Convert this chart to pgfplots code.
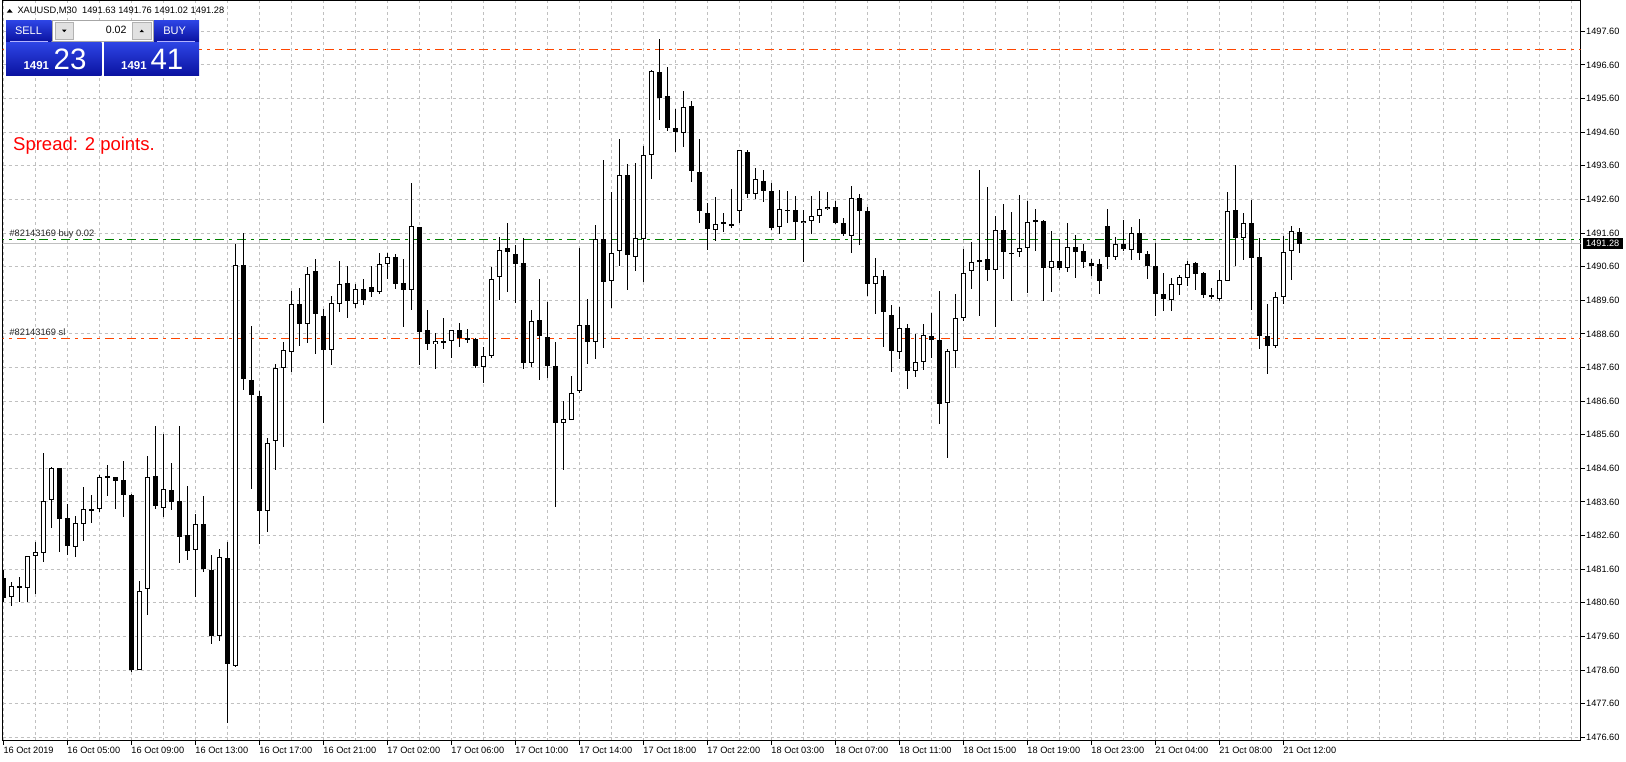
\documentclass[border=0pt]{standalone}
\usepackage{fontspec}
\setmainfont{Liberation Sans}
\usepackage{pgfplots}
\usepackage{pgfplotstable}
\pgfplotsset{compat=1.18}
\definecolor{gridc}{RGB}{192,192,192}
\definecolor{tpred}{RGB}{255,69,0}
\definecolor{ordgreen}{RGB}{0,128,0}
\definecolor{panelTop}{RGB}{45,68,228}
\definecolor{panelBot}{RGB}{10,18,160}
\definecolor{btngray}{RGB}{225,225,225}

\pgfplotstableread{
i o h l c
0 1481.33 1481.60 1480.64 1480.74
1 1480.77 1481.22 1480.52 1481.12
2 1481.12 1481.37 1480.61 1481.05
3 1481.06 1481.99 1480.61 1481.99
4 1481.99 1482.43 1480.88 1482.11
5 1482.08 1485.06 1481.80 1483.62
6 1483.65 1484.64 1482.84 1484.62
7 1484.62 1484.62 1482.13 1483.11
8 1483.13 1483.54 1482.03 1482.30
9 1482.28 1483.19 1481.98 1482.97
10 1482.96 1484.05 1482.45 1483.39
11 1483.39 1483.81 1482.98 1483.36
12 1483.39 1484.41 1483.31 1484.34
13 1484.37 1484.71 1483.78 1484.33
14 1484.34 1484.34 1483.41 1484.24
15 1484.26 1484.82 1483.14 1483.82
16 1483.81 1483.83 1478.55 1478.60
17 1478.62 1481.25 1478.60 1480.97
18 1481.02 1484.97 1480.24 1484.37
19 1484.37 1485.87 1483.40 1483.47
20 1483.44 1485.63 1483.17 1483.99
21 1483.95 1484.76 1483.37 1483.61
22 1483.63 1485.87 1481.80 1482.57
23 1482.62 1484.08 1481.88 1482.15
24 1482.18 1483.25 1480.78 1482.95
25 1482.95 1483.77 1481.52 1481.63
26 1481.58 1482.04 1479.38 1479.62
27 1479.62 1482.21 1479.48 1481.96
28 1481.93 1482.43 1477.04 1478.77
29 1478.71 1491.29 1478.71 1490.65
30 1490.65 1491.60 1486.94 1487.27
31 1487.23 1488.84 1483.99 1486.79
32 1486.76 1486.90 1482.34 1483.34
33 1483.34 1485.51 1482.70 1485.37
34 1485.42 1487.72 1484.56 1487.58
35 1487.58 1488.37 1485.23 1488.12
36 1488.07 1489.88 1487.47 1489.49
37 1489.49 1489.99 1488.24 1488.90
38 1488.90 1490.59 1488.33 1490.39
39 1490.46 1490.83 1488.02 1489.19
40 1489.14 1489.36 1485.95 1488.12
41 1488.12 1489.74 1487.67 1489.52
42 1489.50 1490.79 1489.27 1490.11
43 1490.11 1490.62 1489.07 1489.58
44 1489.50 1490.08 1489.36 1489.94
45 1489.94 1490.24 1489.48 1489.61
46 1489.99 1490.62 1489.70 1489.84
47 1489.85 1491.02 1489.80 1490.69
48 1490.69 1491.02 1490.23 1490.90
49 1490.90 1490.97 1489.93 1490.08
50 1490.12 1490.85 1488.81 1489.91
51 1489.91 1493.11 1489.31 1491.82
52 1491.79 1491.79 1487.70 1488.66
53 1488.70 1489.32 1488.11 1488.30
54 1488.31 1488.64 1487.56 1488.40
55 1488.41 1489.09 1488.17 1488.36
56 1488.40 1488.73 1487.89 1488.73
57 1488.73 1488.93 1488.21 1488.48
58 1488.50 1488.74 1488.32 1488.42
59 1488.44 1488.50 1487.60 1487.64
60 1487.62 1488.23 1487.14 1487.95
61 1487.94 1490.59 1487.88 1490.25
62 1490.29 1491.49 1489.60 1491.11
63 1491.14 1491.89 1489.84 1491.04
64 1491.00 1491.26 1489.54 1490.68
65 1490.70 1491.46 1487.56 1487.73
66 1487.73 1489.33 1487.62 1489.00
67 1489.00 1490.25 1487.25 1488.54
68 1488.53 1489.57 1487.31 1487.65
69 1487.66 1488.36 1483.45 1485.95
70 1485.95 1486.60 1484.57 1486.06
71 1486.06 1487.34 1486.06 1486.86
72 1486.89 1491.17 1486.85 1488.85
73 1488.88 1489.65 1487.71 1488.37
74 1488.37 1491.86 1487.87 1491.43
75 1491.43 1493.76 1488.18 1490.14
76 1490.17 1492.81 1489.37 1491.02
77 1491.08 1494.40 1490.62 1493.33
78 1493.33 1493.66 1489.90 1490.95
79 1490.90 1493.67 1490.46 1491.46
80 1491.43 1494.20 1490.16 1493.93
81 1493.93 1496.46 1493.20 1496.42
82 1496.39 1497.38 1494.96 1495.64
83 1495.68 1496.56 1494.65 1494.72
84 1494.73 1495.31 1494.03 1494.60
85 1494.58 1495.81 1494.15 1495.35
86 1495.38 1495.53 1493.14 1493.44
87 1493.42 1494.40 1491.90 1492.25
88 1492.20 1492.51 1491.09 1491.73
89 1491.70 1492.69 1491.36 1491.88
90 1491.94 1492.21 1491.62 1491.87
91 1491.88 1492.93 1491.77 1491.84
92 1492.26 1494.08 1491.89 1494.08
93 1494.02 1494.08 1492.64 1492.76
94 1492.76 1493.54 1492.61 1493.21
95 1493.15 1493.48 1492.53 1492.85
96 1492.86 1493.10 1491.69 1491.74
97 1491.79 1492.89 1491.57 1492.32
98 1492.29 1492.87 1491.90 1492.29
99 1492.29 1492.72 1491.40 1491.93
100 1491.91 1492.29 1490.74 1491.97
101 1491.97 1492.71 1491.60 1492.11
102 1492.11 1492.87 1491.90 1492.32
103 1492.32 1492.84 1492.28 1492.38
104 1492.38 1492.57 1491.88 1491.90
105 1491.91 1492.06 1491.51 1491.57
106 1491.51 1493.01 1491.01 1492.65
107 1492.65 1492.77 1491.26 1492.26
108 1492.26 1492.38 1489.73 1490.10
109 1490.10 1490.85 1489.20 1490.33
110 1490.33 1490.51 1488.23 1489.25
111 1489.17 1489.48 1487.47 1488.10
112 1488.08 1489.39 1487.86 1488.79
113 1488.79 1488.89 1486.97 1487.50
114 1487.50 1488.60 1487.32 1487.75
115 1487.77 1488.89 1487.53 1488.58
116 1488.55 1489.23 1487.89 1488.42
117 1488.43 1489.87 1485.93 1486.52
118 1486.56 1488.16 1484.92 1488.10
119 1488.10 1489.78 1487.59 1489.09
120 1489.09 1491.12 1488.99 1490.42
121 1490.45 1491.35 1489.94 1490.72
122 1490.82 1493.49 1489.13 1490.77
123 1490.84 1492.96 1490.17 1490.50
124 1490.50 1492.12 1488.81 1491.70
125 1491.70 1492.48 1490.23 1491.04
126 1491.02 1492.24 1489.60 1490.98
127 1491.05 1492.75 1490.91 1491.16
128 1491.16 1492.57 1489.82 1491.94
129 1492.00 1492.32 1491.07 1491.96
130 1491.97 1492.01 1489.58 1490.56
131 1490.56 1491.68 1489.85 1490.78
132 1490.78 1491.44 1490.51 1490.56
133 1490.56 1491.89 1490.44 1491.19
134 1491.19 1491.56 1490.26 1491.04
135 1491.09 1491.28 1490.57 1490.74
136 1490.72 1490.82 1490.32 1490.62
137 1490.69 1490.84 1489.79 1490.17
138 1491.83 1492.32 1490.54 1490.89
139 1490.89 1491.49 1490.80 1491.28
140 1491.28 1492.01 1491.07 1491.12
141 1491.10 1491.80 1490.80 1491.61
142 1491.61 1492.03 1490.80 1491.01
143 1490.99 1491.09 1490.26 1490.62
144 1490.63 1491.31 1489.15 1489.79
145 1489.80 1490.43 1489.28 1489.64
146 1489.61 1490.26 1489.28 1490.07
147 1490.07 1490.35 1489.77 1490.30
148 1490.27 1490.78 1490.02 1490.69
149 1490.72 1490.75 1489.91 1490.41
150 1490.42 1490.45 1489.67 1489.76
151 1489.77 1489.99 1489.64 1489.70
152 1489.64 1490.50 1489.58 1490.21
153 1490.18 1492.84 1490.18 1492.26
154 1492.29 1493.63 1490.62 1491.45
155 1491.45 1492.21 1490.80 1491.91
156 1491.91 1492.59 1489.30 1490.86
157 1490.90 1491.46 1488.18 1488.54
158 1488.56 1489.48 1487.42 1488.24
159 1488.24 1489.86 1488.18 1489.72
160 1489.72 1491.52 1489.47 1491.05
161 1491.08 1491.82 1490.23 1491.67
162 1491.63 1491.76 1491.02 1491.28
}\candles

\begin{document}
\begin{tikzpicture}[x=1pt,y=1pt]
\begin{axis}[
  scale only axis, width=1578pt, height=740.2pt,
  xmin=-0.075, xmax=197.175, ymin=1476.499, ymax=1498.516,
  axis line style={black, line width=1pt},
  tick style={black, line width=1pt},
  major tick length=4pt, minor tick length=0pt,
  tick align=outside,
  xtick pos=bottom, ytick pos=right, yticklabel pos=right,
  xtick={0,8,...,160},
  xticklabels={16 Oct 2019,16 Oct 05:00,16 Oct 09:00,16 Oct 13:00,16 Oct 17:00,16 Oct 21:00,17 Oct 02:00,17 Oct 06:00,17 Oct 10:00,17 Oct 14:00,17 Oct 18:00,17 Oct 22:00,18 Oct 03:00,18 Oct 07:00,18 Oct 11:00,18 Oct 15:00,18 Oct 19:00,18 Oct 23:00,21 Oct 04:00,21 Oct 08:00,21 Oct 12:00},
  minor xtick={0,4,...,196},
  xmajorgrids=false, xminorgrids=true, ymajorgrids=true,
  grid style={gridc, line width=1pt, dash pattern=on 3pt off 3pt},
  minor grid style={gridc, line width=1pt, dash pattern=on 3pt off 3pt},
  ytick={1476.6,1477.6,1478.6,1479.6,1480.6,1481.6,1482.6,1483.6,1484.6,1485.6,1486.6,1487.6,1488.6,1489.6,1490.6,1491.6,1492.6,1493.6,1494.6,1495.6,1496.6,1497.6},
  /pgf/number format/assume math mode=true,
  yticklabel style={/pgf/number format/fixed, /pgf/number format/fixed zerofill, /pgf/number format/precision=2, /pgf/number format/1000 sep={}, anchor=west, inner sep=0pt, xshift=1.3pt, font=\fontsize{9.2}{11}\selectfont},
  xticklabel style={anchor=north west, inner sep=0pt, yshift=-2pt, font=\fontsize{9.2}{11}\selectfont},
]
\coordinate (O) at (rel axis cs:0,0);
% order lines
\addplot[forget plot, tpred, line width=1pt, dash pattern=on 9pt off 5pt on 3pt off 5pt] coordinates {(-1,1497.06) (200,1497.06)};
\addplot[forget plot, tpred, line width=1pt, dash pattern=on 9pt off 5pt on 3pt off 5pt] coordinates {(-1,1488.45) (200,1488.45)};
\addplot[forget plot, gridc, line width=1pt] coordinates {(-1,1491.28) (200,1491.28)};
\addplot[forget plot, ordgreen, line width=1pt, dash pattern=on 9pt off 5pt on 3pt off 5pt] coordinates {(-1,1491.40) (200,1491.40)};
% wicks
\addplot[forget plot, draw=none, mark=none,
  error bars/.cd, y dir=both, y explicit, error mark=none,
  error bar style={draw=black, solid, line width=1pt}]
  table[x=i, y expr={(\thisrow{h}+\thisrow{l})/2}, y error expr={(\thisrow{h}-\thisrow{l})/2}] {\candles};
% bodies (black outline / black fill)
\addplot[forget plot, draw=none, mark=none,
  error bars/.cd, y dir=both, y explicit, error mark=none,
  error bar style={draw=black, solid, line width=5pt}]
  table[x=i, y expr={(\thisrow{o}+\thisrow{c})/2}, y error expr={max(abs(\thisrow{c}-\thisrow{o})/2,0.015)}] {\candles};
% white interior for bullish candles
\addplot[forget plot, draw=none, mark=none,
  error bars/.cd, y dir=both, y explicit, error mark=none,
  error bar style={draw=white, solid, line width=3pt}]
  table[x=i, y expr={(\thisrow{o}+\thisrow{c})/2}, y error expr={(\thisrow{c}>\thisrow{o}) ? max(abs(\thisrow{c}-\thisrow{o})/2-0.0297,0) : 0}] {\candles};
\end{axis}

\pgfresetboundingbox
\begin{scope}[shift={(O)}, xshift=-2.7pt, yshift=-21.3pt]
\useasboundingbox (0,0) rectangle (1626,762);
% header
\fill[black] (6.7,749.3) -- (12.7,749.3) -- (9.7,753) -- cycle;
\node[anchor=base west, inner sep=0pt, font=\fontsize{9.3}{11}\selectfont] at (17.3,748.7) {XAUUSD,M30\ \ 1491.63 1491.76 1491.02 1491.28};

% one-click trading panel
\shade[top color=panelTop, bottom color=panelBot] (6,720.3) rectangle (51.7,741.3);
\shade[top color=panelTop, bottom color=panelBot] (153.3,720.3) rectangle (199,741.3);
\draw[gray!70, fill=white] (52,720.3) rectangle (153,741.3);
\draw[gray!60, fill=btngray] (55,722.5) rectangle (73.5,739.3);
\draw[gray!60, fill=btngray] (132,722.5) rectangle (151.5,739.3);
\fill[black] (62,732.3) -- (66.5,732.3) -- (64.25,729.8) -- cycle;
\fill[black] (139.5,729.8) -- (144,729.8) -- (141.75,732.3) -- cycle;
\node[anchor=base east, inner sep=0pt, font=\fontsize{10.6}{12}\selectfont] at (126.7,728) {0.02};
\draw[blue!30!white, line width=0.8pt] (10,721) -- (48.3,721);
\draw[blue!30!white, line width=0.8pt] (157,721) -- (195,721);
\node[white, inner sep=0pt, font=\fontsize{11}{12}\selectfont] at (28.5,731.3) {SELL};
\node[white, inner sep=0pt, font=\fontsize{11}{12}\selectfont] at (174.7,731.3) {BUY};
\shade[top color=panelTop, bottom color=panelBot] (6,686.3) rectangle (101.7,719.3);
\shade[top color=panelTop, bottom color=panelBot] (104,686.3) rectangle (199,719.3);
\node[white, anchor=base west, inner sep=0pt, font=\bfseries\fontsize{11.5}{12}\selectfont] at (23.3,692.3) {1491};
\node[white, anchor=base west, inner sep=0pt, font=\fontsize{29.5}{30}\selectfont] at (53.5,692.6) {23};
\node[white, anchor=base west, inner sep=0pt, font=\bfseries\fontsize{11.5}{12}\selectfont] at (121,692.3) {1491};
\node[white, anchor=base west, inner sep=0pt, font=\fontsize{29.5}{30}\selectfont] at (150.3,692.6) {41};

% spread
\node[anchor=base west, inner sep=0pt, text={rgb,255:red,255;green,0;blue,0}, font=\fontsize{18.5}{20}\selectfont] at (13,611.3) {Spread: 2 points.};

% order labels
\node[anchor=base west, inner sep=0pt, font=\fontsize{9.3}{11}\selectfont, text=black!85] at (9.3,525.3) {\#82143169 buy 0.02};
\node[anchor=base west, inner sep=0pt, font=\fontsize{9.3}{11}\selectfont, text=black!85] at (9.3,426) {\#82143169 sl};

% bid price label
\fill[black] (1582.7,512.7) rectangle (1622.7,523.7);
\node[white, inner sep=0pt, font=\fontsize{9.2}{11}\selectfont] at (1602.7,518.2) {1491.28};
\end{scope}
\end{tikzpicture}
\end{document}
